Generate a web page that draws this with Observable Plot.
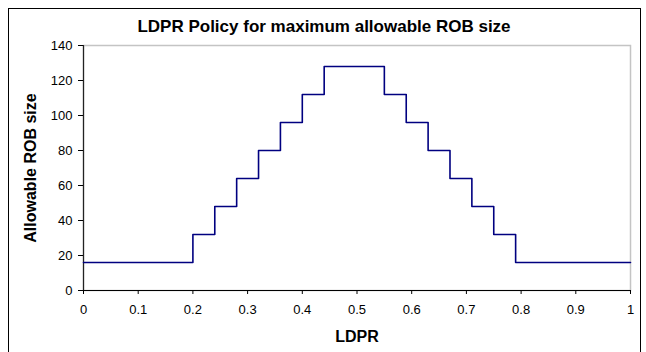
<!DOCTYPE html>
<html><head>
<meta charset="utf-8">
<script src="https://cdn.jsdelivr.net/npm/d3@7"></script>
<script src="https://cdn.jsdelivr.net/npm/@observablehq/plot@0.6"></script>
<style>
body{margin:0;background:#fff;}
#wrap{position:relative;width:646px;height:352px;overflow:hidden;background:#fff;}
#frame{position:absolute;left:8px;top:8px;width:633px;height:360px;border:1.5px solid #000;box-sizing:border-box;pointer-events:none;}
#chart{position:absolute;left:0;top:0;}
</style></head><body>
<div id="wrap"><div id="chart"></div><div id="frame"></div></div>
<script>
const title = "LDPR Policy for maximum allowable ROB size";
const xLabel = "LDPR";
const yLabel = "Allowable ROB size";
const ldpr = [0, 0.2, 0.24, 0.28, 0.32, 0.36, 0.40, 0.44, 0.55, 0.59, 0.63, 0.67, 0.71, 0.75, 0.79, 1];
const robSize = [16, 32, 48, 64, 80, 96, 112, 128, 112, 96, 80, 64, 48, 32, 16, 16];
const xTicks = [0, 0.1, 0.2, 0.3, 0.4, 0.5, 0.6, 0.7, 0.8, 0.9, 1];
const yTicks = [0, 20, 40, 60, 80, 100, 120, 140];

const data = ldpr.map((x, i) => ({x, y: robSize[i]}));

const chart = Plot.plot({
  width: 646, height: 352,
  marginLeft: 83, marginRight: 16, marginTop: 45, marginBottom: 62,
  style: {fontFamily: "'Liberation Sans', Arial, sans-serif", fontSize: "13px", background: "transparent", color: "#000"},
  x: {domain: [0, 1]},
  y: {domain: [0, 140]},
  marks: [
    Plot.frame({stroke: "#c4c4c4", strokeWidth: 1.5}),
    Plot.ruleX([0], {stroke: "#222", strokeWidth: 1.2}),
    Plot.ruleY([0], {stroke: "#000", strokeWidth: 1.2}),
    Plot.axisX({ticks: xTicks, tickSize: 4, tickPadding: 10, tickFormat: d3.format("~g"), label: null, stroke: "#000"}),
    Plot.axisY({ticks: yTicks, tickSize: 5, tickPadding: 6, tickFormat: d3.format("~g"), label: null, stroke: "#000"}),
    Plot.line(data, {x: "x", y: "y", curve: "step-after", stroke: "#000080", strokeWidth: 1.6}),
    Plot.text([title], {text: d => d, frameAnchor: "top", lineAnchor: "middle", dx: -33, dy: -19, fontWeight: "bold", fontSize: 17}),
    Plot.text([xLabel], {text: d => d, frameAnchor: "bottom", lineAnchor: "middle", dy: 46, fontWeight: "bold", fontSize: 16}),
    Plot.text([yLabel], {text: d => d, frameAnchor: "left", lineAnchor: "middle", textAnchor: "middle", dx: -53, rotate: -90, fontWeight: "bold", fontSize: 16})
  ]
});
document.getElementById("chart").appendChild(chart);
</script>
</body></html>
